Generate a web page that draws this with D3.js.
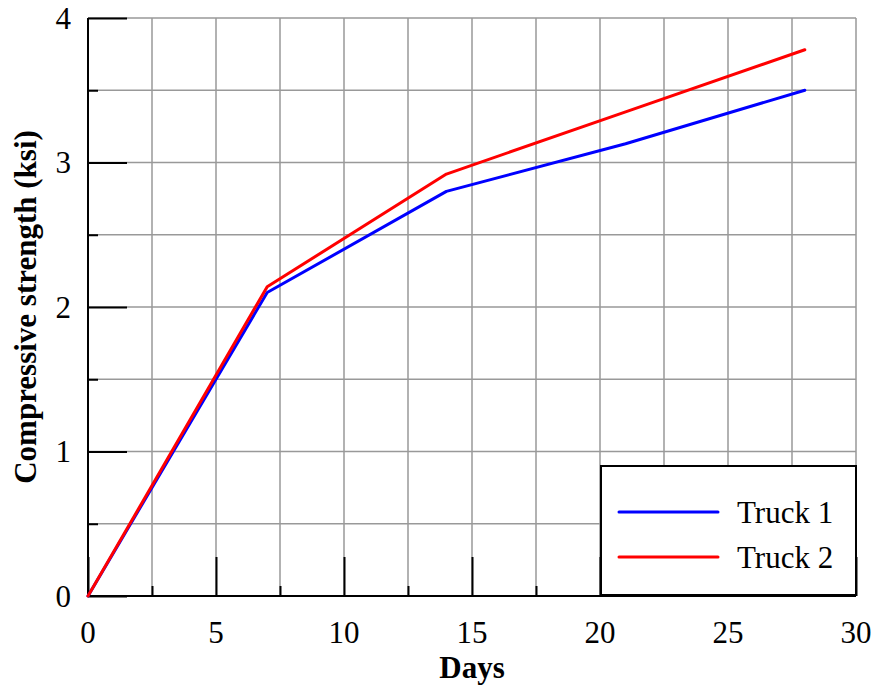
<!DOCTYPE html>
<html>
<head>
<meta charset="utf-8">
<script src="https://cdn.jsdelivr.net/npm/d3@7"></script>
<style>
body{margin:0;background:#fff;}
text{font-family:"Liberation Serif","Times New Roman",serif;}
</style>
</head>
<body>
<svg id="canvas"></svg>
<script>
// values
let days1=[0,7,14,21,28];
let truck1=[0,2.1,2.8,3.13,3.5];
let days2=[0,7,14,21,28];
let truck2=[0,2.14,2.92,3.35,3.78];
let seriesNames=["Truck 1","Truck 2"];
let seriesColors=["#0000ff","#ff0000"];
let xTicks=[0,5,10,15,20,25,30];
let yTicks=[0,1,2,3,4];

let width=876,height=689;
let plotLeft=88,plotRight=856,plotTop=18,plotBottom=596;
let fs=31;

let canvas=d3.select("#canvas").attr("width",width).attr("height",height);

let xscale=d3.scaleLinear().domain([0,30]).range([plotLeft,plotRight]);
let yscale=d3.scaleLinear().domain([0,4]).range([plotBottom,plotTop]);

// grid every 2.5 days / 0.5 ksi
let gridX=d3.range(0,30.01,2.5), gridY=d3.range(0,4.01,0.5);
canvas.append("g").selectAll("line").data(gridX).enter().append("line")
  .attr("x1",d=>xscale(d)).attr("x2",d=>xscale(d))
  .attr("y1",plotTop).attr("y2",plotBottom)
  .attr("stroke","#999").attr("stroke-width",1.5);
canvas.append("g").selectAll("line").data(gridY).enter().append("line")
  .attr("y1",d=>yscale(d)).attr("y2",d=>yscale(d))
  .attr("x1",plotLeft).attr("x2",plotRight)
  .attr("stroke","#999").attr("stroke-width",1.5);

// inward ticks
let xAxis=d3.axisTop(xscale).tickValues(gridX).tickSize(0).tickFormat("");
let gx=canvas.append("g").attr("transform","translate(0,"+plotBottom+")").call(xAxis);
gx.select(".domain").remove();
gx.selectAll(".tick").append("line")
  .attr("y2",d=>(d%5===0?-39:-10)).attr("stroke","#000").attr("stroke-width",2);

let yAxis=d3.axisRight(yscale).tickValues(gridY).tickSize(0).tickFormat("");
let gy=canvas.append("g").attr("transform","translate("+plotLeft+",0)").call(yAxis);
gy.select(".domain").remove();
gy.selectAll(".tick").append("line")
  .attr("x2",d=>(d%1===0?39:10)).attr("stroke","#000").attr("stroke-width",2);

// axis lines
canvas.append("line").attr("x1",plotLeft).attr("x2",plotLeft).attr("y1",plotTop).attr("y2",plotBottom)
  .attr("stroke","#000").attr("stroke-width",2);
canvas.append("line").attr("x1",plotLeft).attr("x2",plotRight).attr("y1",plotBottom).attr("y2",plotBottom)
  .attr("stroke","#000").attr("stroke-width",2);

// tick labels
canvas.append("g").selectAll("text").data(xTicks).enter().append("text")
  .attr("x",d=>xscale(d)).attr("y",plotBottom+47)
  .attr("text-anchor","middle").attr("font-size",fs).text(d=>d);
canvas.append("g").selectAll("text").data(yTicks).enter().append("text")
  .attr("x",plotLeft-17).attr("y",d=>yscale(d)+10.5)
  .attr("text-anchor","end").attr("font-size",fs).text(d=>d);

// titles
canvas.append("text").attr("x",(plotLeft+plotRight)/2).attr("y",678)
  .attr("text-anchor","middle").attr("font-size",fs).attr("font-weight","bold").text("Days");
canvas.append("text").attr("transform","translate(36,"+((plotTop+plotBottom)/2)+") rotate(-90)")
  .attr("text-anchor","middle").attr("font-size",fs).attr("font-weight","bold")
  .text("Compressive strength (ksi)");

// lines
let line=d3.line().x(d=>xscale(d[0])).y(d=>yscale(d[1]));
let series=[d3.zip(days1,truck1),d3.zip(days2,truck2)];
canvas.append("g").selectAll("path").data(series).enter().append("path")
  .attr("d",line).attr("fill","none")
  .attr("stroke",(d,i)=>seriesColors[i]).attr("stroke-width",3)
  .attr("stroke-linejoin","round").attr("stroke-linecap","round");

// legend
let lg=canvas.append("g");
lg.append("rect").attr("x",601).attr("y",466).attr("width",255).attr("height",129)
  .attr("fill","#fff").attr("stroke","#000").attr("stroke-width",2);
seriesNames.forEach((name,i)=>{
  let y=512+i*45;
  lg.append("line").attr("x1",619).attr("x2",718).attr("y1",y).attr("y2",y)
    .attr("stroke",seriesColors[i]).attr("stroke-width",3).attr("stroke-linecap","round");
  lg.append("text").attr("x",737).attr("y",y+11).attr("font-size",fs).text(name);
});
</script>
</body>
</html>
